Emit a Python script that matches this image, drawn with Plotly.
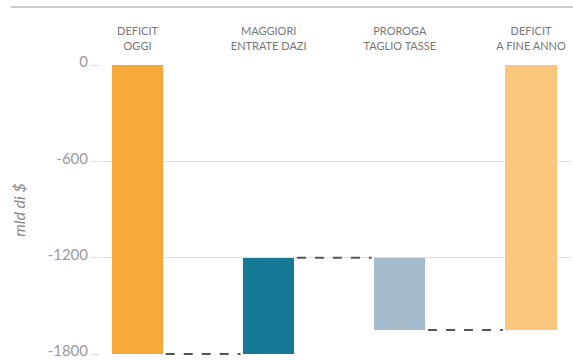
import plotly.graph_objects as go

categories = ["DEFICIT<br>OGGI", "MAGGIORI<br>ENTRATE DAZI", "PROROGA<br>TAGLIO TASSE", "DEFICIT<br>A FINE ANNO"]
changes = [-1800, 600, -450, None]   # None = total
colors = ["#F5A93A", "#167A96", "#A3BACD", "#F9C77C"]
y_ticks = [0, -600, -1200, -1800]
y_title = "mld di $"

# compute bases / lengths
bases, lengths, levels = [], [], []
level = 0
for c in changes:
    if c is None:
        bases.append(0); lengths.append(level)
    elif not levels:
        bases.append(0); lengths.append(c); level = c
    else:
        bases.append(level); lengths.append(c)
        level = level + c
    levels.append(level)

xs = list(range(len(categories)))
bw = 0.39

fig = go.Figure()
fig.add_trace(go.Bar(x=xs, y=lengths, base=bases, width=bw,
                     marker=dict(color=colors, line=dict(width=0)),
                     hoverinfo="skip"))

shapes = []
for i in range(len(categories) - 1):
    shapes.append(dict(type="line", xref="x", yref="y",
                       x0=i + bw / 2 + 0.02, x1=i + 1 - bw / 2 - 0.02,
                       y0=levels[i], y1=levels[i],
                       line=dict(color="#555555", width=2, dash="dash")))
shapes.append(dict(type="line", xref="paper", yref="paper", x0=-0.19, x1=1.01, y0=1.2, y1=1.2,
                   line=dict(color="#bdbdbd", width=1.5)))

fig.update_layout(
    width=573, height=361,
    margin=dict(l=100, r=3, t=65, b=6),
    paper_bgcolor="white", plot_bgcolor="white",
    showlegend=False,
    shapes=shapes,
    font=dict(family="Lato, sans-serif", color="#8a8a8a"),
    xaxis=dict(side="top", range=[-0.286, 3.297], tickmode="array", tickvals=xs,
               ticktext=categories, showgrid=False, zeroline=False, showline=False,
               tickfont=dict(size=11, color="#777777"), automargin=False,
               ticks="outside", ticklen=10, tickcolor="rgba(0,0,0,0)"),
    yaxis=dict(range=[-1806, 1], tickvals=y_ticks, ticktext=[str(t) for t in y_ticks],
               showgrid=True, gridcolor="#e2e2e2", gridwidth=1, zeroline=False,
               showline=False, tickfont=dict(size=15, color="#9a9a9a"),
               ticks="outside", ticklen=8, tickcolor="#dddddd",
               ticklabeloverflow="allow", automargin=False, ticklabelshift=-3,
               title=dict(text="<i>" + y_title + "</i>", font=dict(size=16, color="#8a8a8a"), standoff=18)),
    bargap=0,
)

fig.write_html("out.html", config={"displayModeBar": False, "staticPlot": True},
               post_script="document.body.style.margin='0';document.body.style.overflow='hidden';")
